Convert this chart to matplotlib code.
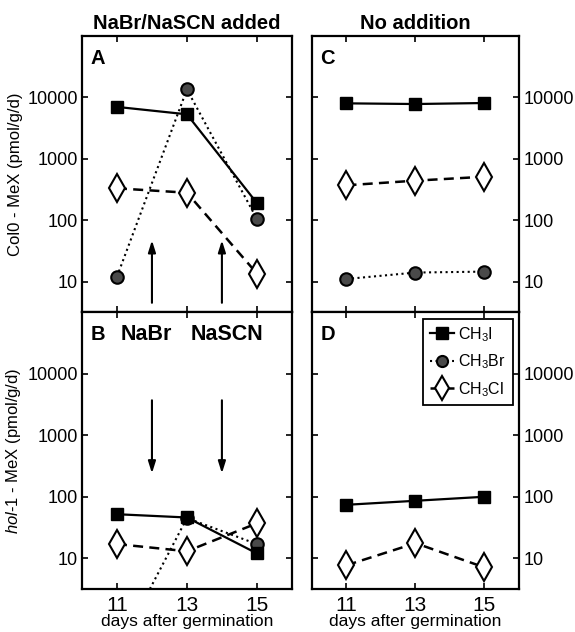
import matplotlib
matplotlib.use("Agg")
import matplotlib.pyplot as plt
from matplotlib.lines import Line2D

plt.rcParams['font.family'] = ['Liberation Sans', 'DejaVu Sans']
plt.rcParams['mathtext.fontset'] = 'custom'
plt.rcParams['mathtext.rm'] = 'Liberation Sans'
plt.rcParams['mathtext.it'] = 'Liberation Sans:italic'

days = [11, 13, 15]

# panel A: Col0, NaBr/NaSCN added
a_ch3i = [7000, 5300, 190]
a_ch3br = [12, 13500, 105]
a_ch3cl = [330, 280, 13.5]

# panel B: hol-1, NaBr/NaSCN added
b_ch3i = [52, 46, 12]
b_ch3br = [0.3, 45, 17]
b_ch3cl = [17, 13, 37]

# panel C: Col0, no addition
c_ch3i = [8000, 7800, 8100]
c_ch3br = [11, 14, 14.5]
c_ch3cl = [370, 440, 510]

# panel D: hol-1, no addition
d_ch3i = [74, 86, 100]
d_ch3cl = [7.7, 17.6, 7.1]

arrow_days = [12, 14]
arrow_labels = ["NaBr", "NaSCN"]
arrow_label_x = [11.85, 14.15]
yticks = [10, 100, 1000, 10000]
ytick_labels = ["10", "100", "1000", "10000"]

sty_i = dict(color='k', ls='-', lw=1.6, marker='s', ms=8.5, mfc='k', mec='k')
sty_br = dict(color='k', ls=':', lw=1.5, marker='o', ms=9, mfc='#4a4a4a', mec='k', mew=1.5)
sty_cl = dict(color='k', ls=(0, (4, 2.5)), lw=1.8, marker='d', ms=14, mfc='white', mec='k', mew=1.5)

fig = plt.figure(figsize=(5.75, 6.32), dpi=100)
axA = fig.add_axes([0.1426, 0.506, 0.365, 0.437])
axB = fig.add_axes([0.1426, 0.068, 0.365, 0.438])
axC = fig.add_axes([0.5426, 0.506, 0.36, 0.437])
axD = fig.add_axes([0.5426, 0.068, 0.36, 0.438])

for ax in [axA, axB, axC, axD]:
    ax.set_yscale('log')
    ax.set_ylim(10**0.5, 1e5)
    ax.set_xlim(10, 16)
    ax.set_xticks(days)
    ax.set_yticks(yticks)
    ax.set_yticklabels(ytick_labels)
    ax.minorticks_off()
    ax.tick_params(direction='in', top=True, right=True, length=4, width=1.2,
                   labelsize=13, pad=3)
    ax.tick_params(axis='x', labelsize=15, pad=5)
    for s in ax.spines.values():
        s.set_linewidth(1.6)

axA.plot(days, a_ch3br, **sty_br)
axA.plot(days, a_ch3cl, **sty_cl)
axA.plot(days, a_ch3i, **sty_i)

axB.plot(days, b_ch3br, **sty_br)
axB.plot(days, b_ch3cl, **sty_cl)
axB.plot(days, b_ch3i, **sty_i)

axC.plot(days, c_ch3br, **sty_br)
axC.plot(days, c_ch3cl, **sty_cl)
axC.plot(days, c_ch3i, **sty_i)

axD.plot(days, d_ch3cl, **sty_cl)
axD.plot(days, d_ch3i, **sty_i)

# arrows marking salt additions
for d in arrow_days:
    axA.annotate('', xy=(d, 47), xytext=(d, 4.5),
                 arrowprops=dict(arrowstyle='-|>,head_width=0.22,head_length=0.7',
                                 lw=1.5, color='k', shrinkA=0, shrinkB=0))
    axB.annotate('', xy=(d, 240), xytext=(d, 3700),
                 arrowprops=dict(arrowstyle='-|>,head_width=0.22,head_length=0.7',
                                 lw=1.5, color='k', shrinkA=0, shrinkB=0))
for x, lab in zip(arrow_label_x, arrow_labels):
    axB.text(x, 0.92, lab, transform=axB.get_xaxis_transform(), ha='center',
             va='center', fontsize=15.5, fontweight='bold')

for ax, lab in zip([axA, axB, axC, axD], "ABCD"):
    ax.text(0.04, 0.918, lab, transform=ax.transAxes, fontsize=14.5,
            fontweight='bold', va='center', ha='left')

for ax in [axA, axC]:
    ax.tick_params(labelbottom=False)
for ax in [axC, axD]:
    ax.tick_params(labelleft=False, labelright=True)

axA.set_title("NaBr/NaSCN added", fontsize=14.5, fontweight='bold', pad=5)
axC.set_title("No addition", fontsize=14.5, fontweight='bold', pad=5)

axA.set_ylabel("Col0 - MeX (pmol/g/d)", fontsize=12, labelpad=3)
axB.set_ylabel(r"$\mathit{hol}$-$\mathit{1}$ - MeX (pmol/g/d)", fontsize=12, labelpad=3)
axB.set_xlabel("days after germination", fontsize=12.5, labelpad=-1)
axD.set_xlabel("days after germination", fontsize=12.5, labelpad=-1)

handles = [Line2D([], [], **{**sty_i, 'ms': 8}),
           Line2D([], [], **{**sty_br, 'ms': 8}),
           Line2D([], [], **{**sty_cl, 'ms': 12})]
leg = axD.legend(handles, [r"CH$_3$I", r"CH$_3$Br", r"CH$_3$Cl"], loc='upper right',
                 fontsize=11.5, fancybox=False, edgecolor='k', framealpha=1,
                 handlelength=1.5, handletextpad=0.3, borderpad=0.4,
                 labelspacing=0.55, borderaxespad=0.4)
leg.get_frame().set_linewidth(1.3)

fig.savefig("out.png", dpi=100)
